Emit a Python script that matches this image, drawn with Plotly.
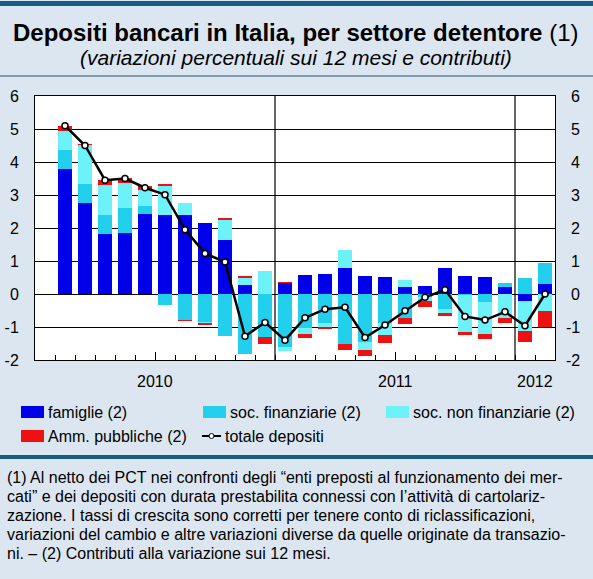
import plotly.graph_objects as go

# ---------------- data (Feb 2010 .. Feb 2012) ----------------
months = list(range(1, 26))  # 0 = Jan 2010 (empty slot), 1 = Feb 2010 ... 25 = Feb 2012
famiglie = [3.80, 2.77, 1.82, 1.85, 2.43, 2.40, 2.40, 2.15, 1.63, 0.26, 0.00, 0.34, 0.59,
            0.62, 0.79, 0.56, 0.53, 0.22, 0.23, 0.80, 0.56, 0.53, 0.22, -0.22, 0.29]
soc_fin = [0.56, 0.55, 0.58, 0.76, 0.24, -0.33, -0.79, -0.86, -1.27, -1.81, -1.29, -1.61, -1.04,
           -0.88, -1.51, -1.44, -0.88, -0.74, -0.08, -0.45, -0.04, -0.23, 0.10, 0.47, 0.66]
soc_nonfin = [0.58, 1.20, 0.90, 0.76, 0.47, 0.90, 0.37, -0.03, 0.63, 0.23, 0.69, -0.13, -0.17,
              -0.15, 0.53, -0.25, -0.36, 0.19, -0.14, -0.14, -1.10, -0.97, -0.73, -0.90, -0.51]
amm_pubbl = [0.16, 0.02, 0.16, 0.15, 0.13, 0.02, -0.02, -0.02, 0.02, 0.03, -0.22, 0.02, -0.11,
             -0.03, -0.20, -0.20, -0.23, -0.16, -0.18, -0.09, -0.10, -0.15, -0.15, -0.33, -0.50]
totale = [5.10, 4.50, 3.45, 3.50, 3.22, 3.01, 1.95, 1.23, 0.97, -1.28, -0.86, -1.40, -0.72,
          -0.46, -0.40, -1.32, -0.94, -0.51, -0.10, 0.13, -0.68, -0.79, -0.54, -0.96, 0.00]
year_labels = ["2010", "2011", "2012"]
year_centers = [5.5, 17.5, 24.5]
year_breaks = [11.5, 23.5]
y_ticks = [-2, -1, 0, 1, 2, 3, 4, 5, 6]
y_ticktext = [str(v) for v in y_ticks]

# ---------------- styles ----------------
C_FAM = "#0000E8"
C_FIN = "#22D0EE"
C_NONFIN = "#6CF2F8"
C_AMM = "#EE1111"
BG = "#DCE6F0"
DARK = "#155C7E"
FONT = "Liberation Sans, Arial, Helvetica, sans-serif"

W, H = 593, 579
L, R, T, B = 35, 38, 96, 219
PW, PH = W - L - R, H - T - B


def px(x):
    return (x - L) / PW


def py(y):
    return (H - B - y) / PH


fig = go.Figure()
for name, vals, col in [("famiglie (2)", famiglie, C_FAM),
                        ("soc. finanziarie (2)", soc_fin, C_FIN),
                        ("soc. non finanziarie (2)", soc_nonfin, C_NONFIN),
                        ("Amm. pubbliche (2)", amm_pubbl, C_AMM)]:
    fig.add_trace(go.Bar(x=months, y=vals, name=name, marker=dict(color=col, line=dict(width=0)),
                         width=0.72, showlegend=False, hoverinfo="skip"))

fig.add_trace(go.Scatter(x=months, y=totale, mode="lines+markers", name="totale depositi",
                         line=dict(color="black", width=2.5),
                         marker=dict(symbol="circle", size=6, color="white",
                                     line=dict(color="black", width=1.5)),
                         showlegend=False, hoverinfo="skip"))

fig.update_layout(
    width=W, height=H, barmode="relative", bargap=0,
    margin=dict(l=L, r=R, t=T, b=B, pad=0, autoexpand=False),
    paper_bgcolor=BG, plot_bgcolor="white",
    font=dict(family=FONT, size=16, color="black"),
    xaxis=dict(range=[-0.5, 25.5], showgrid=False, zeroline=False, automargin=False,
               showline=True, linecolor="black", linewidth=1, mirror=True,
               tickmode="array", tickvals=[5.5, 17.5], ticktext=["", ""],
               ticks="inside", ticklen=8, tickcolor="black", tickwidth=1,
               minor=dict(tickmode="linear", tick0=0.5, dtick=1, ticks="inside",
                          ticklen=5, tickcolor="black", tickwidth=1, showgrid=False)),
    yaxis=dict(range=[-2, 6], tickmode="array", tickvals=y_ticks, ticktext=y_ticktext,
               showgrid=True, gridcolor="black", gridwidth=1, automargin=False,
               zeroline=False, showline=True, linecolor="black", linewidth=1, mirror=True,
               ticks="", ticklabelstandoff=12, tickfont=dict(size=16)),
)

shapes = []
for xb in year_breaks:
    shapes.append(dict(type="line", xref="x", yref="paper", x0=xb, x1=xb, y0=0, y1=1,
                       line=dict(color="black", width=1.2)))
# decorative rules
shapes.append(dict(type="rect", xref="paper", yref="paper", x0=px(0), x1=px(W), y0=py(1), y1=py(6),
                   fillcolor=DARK, line=dict(width=0), layer="below"))
shapes.append(dict(type="line", xref="paper", yref="paper", x0=px(0), x1=px(W), y0=py(76), y1=py(76),
                   line=dict(color="#2A4F66", width=1.2)))
shapes.append(dict(type="rect", xref="paper", yref="paper", x0=px(0), x1=px(W), y0=py(455), y1=py(459),
                   fillcolor=DARK, line=dict(width=0), layer="below"))

annotations = []
annotations.append(dict(text="<b>Depositi bancari in Italia, per settore detentore</b> (1)",
                        xref="paper", yref="paper", x=px(295), y=py(32), xanchor="center",
                        yanchor="middle", showarrow=False, font=dict(size=24)))
annotations.append(dict(text="<i>(variazioni percentuali sui 12 mesi e contributi)</i>",
                        xref="paper", yref="paper", x=px(296), y=py(58), xanchor="center",
                        yanchor="middle", showarrow=False, font=dict(size=21)))
for lab, xc in zip(year_labels, year_centers):
    annotations.append(dict(text=lab, xref="x", yref="paper", x=xc, y=py(381), xanchor="center",
                            yanchor="middle", showarrow=False, font=dict(size=16)))
for v in y_ticks:
    annotations.append(dict(text=str(v), xref="paper", yref="y", x=px(582), y=v, xanchor="right",
                            yanchor="middle", showarrow=False, font=dict(size=16)))

# manual legend
leg = [("famiglie (2)", C_FAM, 21, 412), ("soc. finanziarie (2)", C_FIN, 203, 412),
       ("soc. non finanziarie (2)", C_NONFIN, 386, 412), ("Amm. pubbliche (2)", C_AMM, 21, 436)]
for txt, col, x0, yc in leg:
    shapes.append(dict(type="rect", xref="paper", yref="paper", x0=px(x0), x1=px(x0 + 23),
                       y0=py(yc + 6), y1=py(yc - 6), fillcolor=col, line=dict(width=0)))
    annotations.append(dict(text=txt, xref="paper", yref="paper", x=px(x0 + 25), y=py(yc),
                            xanchor="left", yanchor="middle", showarrow=False, font=dict(size=16)))
shapes.append(dict(type="line", xref="paper", yref="paper", x0=px(202), x1=px(221), y0=py(436), y1=py(436),
                   line=dict(color="black", width=2)))
shapes.append(dict(type="circle", xref="paper", yref="paper", x0=px(209), x1=px(214), y0=py(438.5), y1=py(433.5),
                   fillcolor="white", line=dict(color="black", width=1)))
annotations.append(dict(text="totale depositi", xref="paper", yref="paper", x=px(223), y=py(436),
                        xanchor="left", yanchor="middle", showarrow=False, font=dict(size=16)))

foot = ["(1) Al netto dei PCT nei confronti degli “enti preposti al funzionamento dei mer-",
        "cati” e dei depositi con durata prestabilita connessi con l’attività di cartolariz-",
        "zazione. I tassi di crescita sono corretti per tenere conto di riclassificazioni,",
        "variazioni del cambio e altre variazioni diverse da quelle originate da transazio-",
        "ni. – (2) Contributi alla variazione sui 12 mesi."]
for i, line in enumerate(foot):
    annotations.append(dict(text=line, xref="paper", yref="paper", x=px(5), y=py(477 + 19 * i),
                            xanchor="left", yanchor="middle", showarrow=False, font=dict(size=16)))

fig.update_layout(shapes=shapes, annotations=annotations)
fig.write_html("out.html", config={"displayModeBar": False},
               post_script="document.body.style.margin='0';document.body.style.padding='0';")
